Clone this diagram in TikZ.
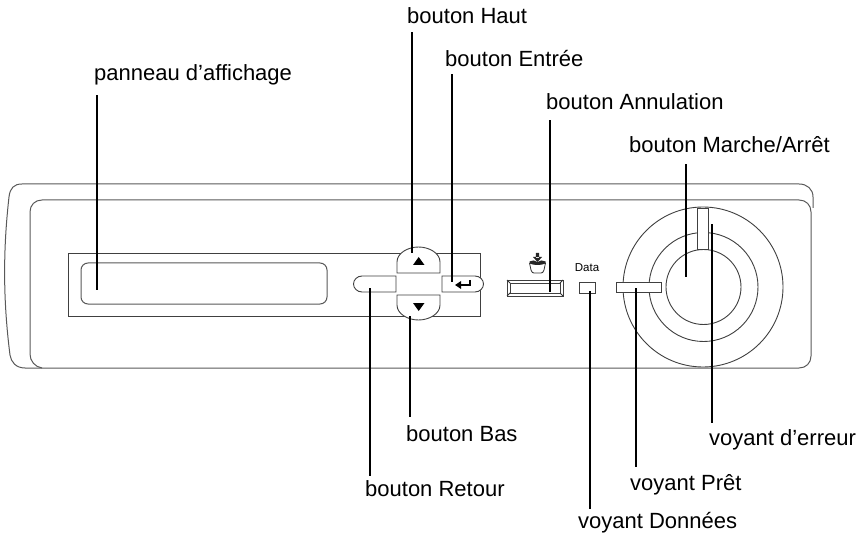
\documentclass[tikz,border=0pt]{standalone}
\usepackage{fontspec}
\setmainfont{Liberation Sans}
\begin{document}
\begin{tikzpicture}[x=1pt,y=-1pt,
  body/.style={draw=black!65,line width=1pt},
  thin part/.style={draw=black!75,line width=0.9pt,fill=white},
  leader/.style={draw=black,line width=2pt},
  lbl/.style={font=\fontsize{22}{25}\selectfont,inner sep=0pt,anchor=base west}]
\useasboundingbox (0,0) rectangle (859,537);
% housing
\draw[body] (813,208) -- (813,197) .. controls (813,189) and (807,184) .. (799,184) -- (22,184)
  .. controls (14,184) and (10,188) .. (9,197) .. controls (3,250) and (3,300) .. (10,355)
  .. controls (11,362) and (16,368) .. (25,368) -- (799,368);
\draw[body] (42,368) .. controls (35,367) and (30,361) .. (30,354) -- (30,212)
  .. controls (30,205) and (35,200) .. (42,200) -- (799,200)
  .. controls (806,200) and (811,205) .. (811,212) -- (811,356)
  .. controls (811,363) and (806,368) .. (799,368);
% display
\draw[thin part] (68,253) rectangle (480,316);
\draw[body,rounded corners=7pt] (81,263) rectangle (327,304);
% buttons
\draw[thin part] (397,273) -- (397,262) .. controls (397,253) and (408,247) .. (418.5,247)
  .. controls (429,247) and (440,253) .. (440,262) -- (440,273) -- cycle;
\draw[thin part] (397,295) -- (397,305) .. controls (397,314) and (408,320) .. (418.5,320)
  .. controls (429,320) and (440,314) .. (440,305) -- (440,295) -- cycle;
\draw[thin part] (396,276) -- (362,276) .. controls (357,276) and (353.5,280) .. (353.5,284)
  .. controls (353.5,288) and (357,292) .. (362,292) -- (396,292) -- cycle;
\draw[thin part] (442,276) -- (475,276) .. controls (480,276) and (483.5,280) .. (483.5,284)
  .. controls (483.5,288) and (480,292) .. (475,292) -- (442,292) -- cycle;
\fill (413,265) -- (424.5,265) -- (418.7,257) -- cycle;
\fill (413,303) -- (424.5,303) -- (418.7,311) -- cycle;
\draw[line width=1.6pt] (470,280) -- (470,285) -- (458,285);
\fill (455,285) -- (461,281) -- (461,289) -- cycle;
% cancel
\draw[thin part] (507,280) rectangle (563,296);
\draw[thin part,line width=0.7pt] (510,283) rectangle (560,293);
\draw[line width=0.8pt,draw=black!80] (507,280) -- (510,283) (563,280) -- (560,283) (507,296) -- (510,293) (563,296) -- (560,293);
\draw[draw=black!80,line width=0.8pt] (529.5,263) -- (531,270) .. controls (531.5,272.5) and (533,273) .. (534,273) -- (541,273) .. controls (542,273) and (543.5,272.5) .. (544,270) -- (545.5,263);
\fill[black!85] (529.5,261.5) .. controls (532,260) and (535,260) .. (537.5,262) .. controls (540,260) and (543,260) .. (545.5,261.5) -- (545.5,263.5) .. controls (541,265.5) and (534,265.5) .. (529.5,263.5) -- cycle;
\fill[black!85] (535.8,258) -- (539.2,258) -- (539.2,253) -- (535.8,253) -- cycle (533,257) -- (542,257) -- (537.5,262) -- cycle;
% data
\node[font=\fontsize{11.5}{13}\selectfont,inner sep=0pt] (datatext) at (587,268) {Data};
\draw[thin part] (579,282) rectangle (595,293);
% dial
\draw[thin part] (703,287) circle (80);
\draw[thin part] (703.5,287) circle (54.5);
\draw[thin part] (703.5,287) circle (37.5);
\draw[thin part] (616,282) rectangle (661,292);
\draw[thin part] (697,208) rectangle (708,249);
% labels
\node[lbl] (panneau) at (94,81) {panneau d’affichage};
\node[lbl] (haut) at (407,24) {bouton Haut};
\node[lbl] (entree) at (445,67) {bouton Entrée};
\node[lbl] (annul) at (546,110) {bouton Annulation};
\node[lbl] (marche) at (629,153) {bouton Marche/Arrêt};
\node[lbl] (bas) at (406,441) {bouton Bas};
\node[lbl] (retour) at (365,496) {bouton Retour};
\node[lbl] (erreur) at (709,445) {voyant d’erreur};
\node[lbl] (pret) at (630,490) {voyant Prêt};
\node[lbl] (donnees) at (578,528) {voyant Données};
% end points
\coordinate (ePanneau) at (97,290);
\coordinate (eHaut) at (412,253);
\coordinate (eEntree) at (452,282);
\coordinate (eAnnul) at (550,292);
\coordinate (eMarche) at (686,277);
\coordinate (eBas) at (410,316);
\coordinate (eRetour) at (370,288);
\coordinate (eErreur) at (712,224);
\coordinate (ePret) at (636,288);
\coordinate (eDonnees) at (590,291);
% leaders
\draw[leader,shorten <=9.5pt] (panneau.south -| ePanneau) -- (ePanneau);
\draw[leader,shorten <=8pt] (haut.south -| eHaut) -- (eHaut);
\draw[leader,shorten <=7pt] (entree.south -| eEntree) -- (eEntree);
\draw[leader,shorten <=10pt] (annul.south -| eAnnul) -- (eAnnul);
\draw[leader,shorten <=11pt] (marche.south -| eMarche) -- (eMarche);
\draw[leader,shorten <=8pt] (bas.north -| eBas) -- (eBas);
\draw[leader,shorten <=4pt] (retour.north -| eRetour) -- (eRetour);
\draw[leader,shorten <=6pt] (erreur.north -| eErreur) -- (eErreur);
\draw[leader,shorten <=7pt] (pret.north -| ePret) -- (ePret);
\draw[leader,shorten <=3pt] (donnees.north -| eDonnees) -- (eDonnees);
\end{tikzpicture}
\end{document}
